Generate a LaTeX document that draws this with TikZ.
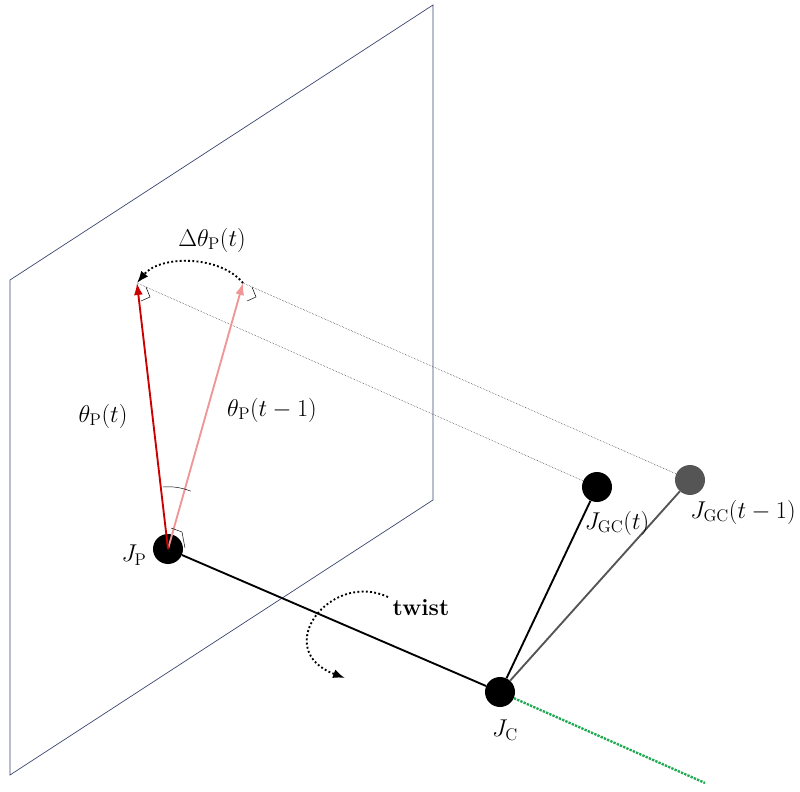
\documentclass[tikz,border=0pt]{standalone}
\usepackage{amsmath}
\usetikzlibrary{arrows.meta}
\definecolor{planeblue}{RGB}{60,70,110}
\definecolor{lightred}{RGB}{240,150,150}
\definecolor{jointgray}{RGB}{85,85,85}
\definecolor{limbgreen}{RGB}{30,170,80}
\begin{document}
\begin{tikzpicture}[x=0.03cm, y=-0.03cm,
    joint/.style={circle, fill=black, inner sep=0pt, minimum size=0.9cm},
    limb/.style={line width=1.6pt},
    proj/.style={densely dotted, thin},
    lbl/.style={font=\fontsize{21}{25}\selectfont}
]
\useasboundingbox (0,0) rectangle (800,792);

% Plane
\draw[planeblue, semithick] (10,280) -- (433,5) -- (433,500) -- (10,775) -- cycle;

% Joints
\node[joint] (jp) at (168,549) {};
\node[joint] (jc) at (500,692) {};
\node[joint] (jgc) at (597,487) {};
\node[joint, fill=jointgray] (jgcold) at (690,480) {};
\coordinate (tipnow) at (137,283);
\coordinate (tipold) at (243,283);
\coordinate (greenend) at (705,783);

% Limbs
\draw[limb] (jp) -- (jc);
\draw[limb] (jc) -- (jgc);
\draw[limb, jointgray] (jc) -- (jgcold);
\draw[line width=2pt, densely dotted, limbgreen] (jc) -- (greenend);

% Projections
\draw[proj] (tipnow) -- (jgc);
\draw[proj] (tipold) -- (jgcold);
\draw[-{Latex}, line width=1.6pt, lightred] (jp.center) -- (tipold);
\draw[-{Latex}, line width=1.6pt, red!80!black] (jp.center) -- (tipnow);

% Right-angle marks
\draw[thin] (146,287) -- (150,297) -- (141,301);
\draw[thin] (252,287) -- (256,297) -- (247,301);
\draw[thin] (171,528) -- (182,532) -- (185,548);
\draw[thin] (163,487) arc[start angle=-95, end angle=-68, radius=60];

% Arcs
\draw[-{Latex}, line width=1.6pt, dotted] (tipold) .. controls (220,255) and (160,255) .. (tipnow);
\draw[-{Latex}, line width=1.6pt, dotted] (388,597) .. controls (330,570) and (270,650) .. (345,678);

% Labels
\node[lbl] (dlbl) at (212,240) {$\Delta\theta_{\mathrm{P}}(t)$};
\node[lbl] (tnow) at (103,416) {$\theta_{\mathrm{P}}(t)$};
\node[lbl] (told) at (272,410) {$\theta_{\mathrm{P}}(t-1)$};
\node[lbl] (jplbl) at (134,555) {$J_{\mathrm{P}}$};
\node[lbl] (jclbl) at (505,730) {$J_{\mathrm{C}}$};
\node[lbl] (jgclbl) at (617,523) {$J_{\mathrm{GC}}(t)$};
\node[lbl] (jgcoldlbl) at (743,512) {$J_{\mathrm{GC}}(t-1)$};
\node[lbl, font=\fontsize{20}{24}\selectfont\bfseries] (twlbl) at (421,608) {twist};
\end{tikzpicture}
\end{document}
